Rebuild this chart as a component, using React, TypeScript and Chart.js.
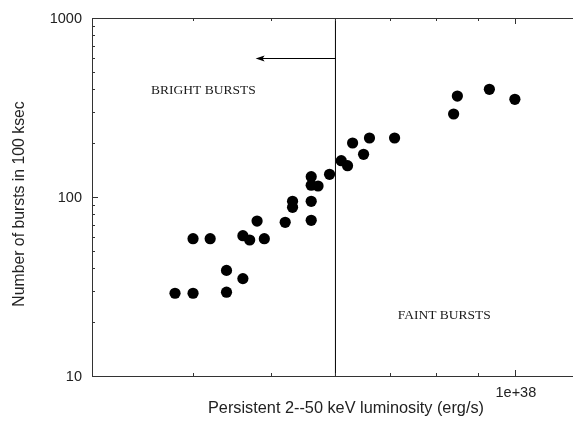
import React, { useEffect, useRef } from "react";
import { Chart, registerables } from "chart.js";

Chart.register(...registerables);

// Persistent 2--50 keV luminosity, in units of 1e37 erg/s
const luminosity = [
  3.8, 4.0, 4.4, 4.4, 4.61, 4.0, 4.2, 4.61, 4.7, 4.9, 4.8, 5.2, 5.31, 5.31,
  5.6, 5.6, 5.6, 5.6, 5.71, 5.9, 6.1, 6.21, 6.3, 6.61, 6.5, 7.1, 8.4, 8.49,
  9.3, 10.0,
];
// Number of bursts in 100 ksec
const bursts = [
  29, 29, 29.4, 38.9, 35, 58.5, 58.5, 60.8, 57.5, 58.5, 73.4, 72.2, 94.6, 87.6,
  94.6, 74.1, 129.8, 116.3, 115.2, 133.9, 159.5, 149.6, 200.3, 213.6, 173.2,
  213.6, 290.9, 366.5, 399.6, 351.4,
];

const UNIT = 1e37;
const xRange = [3.0, 11.8]; // units of 1e37
const yRange = [10, 1000];
const yTickLabels = ["10", "100", "1000"];
const yTickValues = [10, 100, 1000];
const xTickLabels = ["1e+38"];
const xTickValues = [10];
const xMinorTicks = [3, 4, 5, 6, 7, 8, 9, 10]; // units of 1e37

const boundaryLum = 6.0;
const arrowLevel = 600;
const arrowEnd = 4.78;
const brightLabel = { text: "BRIGHT BURSTS", x: 4.12, y: 396 };
const faintLabel = { text: "FAINT BURSTS", x: 8.18, y: 21.9 };

const xTitle = "Persistent 2--50 keV luminosity (erg/s)";
const yTitle = "Number of bursts in 100 ksec";

const framePlugin = {
  id: "framePlugin",
  afterDatasetsDraw(chart: any) {
    const { ctx, chartArea, scales } = chart;
    const xs = scales.x;
    const ys = scales.y;
    const { left, right, top, bottom } = chartArea;
    ctx.save();

    // frame
    ctx.strokeStyle = "#333";
    ctx.lineWidth = 1;
    ctx.beginPath();
    ctx.moveTo(left + 0.5, top + 0.5);
    ctx.lineTo(left + 0.5, bottom + 0.5);
    ctx.moveTo(left, top + 0.5);
    ctx.lineTo(right, top + 0.5);
    ctx.moveTo(left, bottom + 0.5);
    ctx.lineTo(right, bottom + 0.5);
    ctx.stroke();

    // y ticks (inward)
    ctx.beginPath();
    for (let k = 1; k <= 2; k++) {
      for (let m = 1; m <= 10; m++) {
        const v = m * Math.pow(10, k);
        if (v < yRange[0] || v > yRange[1]) continue;
        const py = Math.round(ys.getPixelForValue(v)) + 0.5;
        const len = m === 1 || m === 10 ? 6 : 3;
        ctx.moveTo(left, py);
        ctx.lineTo(left + len, py);
      }
    }
    // x ticks (inward, top and bottom)
    for (const m of xMinorTicks) {
      const px = Math.round(xs.getPixelForValue(m * UNIT)) + 0.5;
      const len = m === 10 ? 6 : 3;
      ctx.moveTo(px, bottom);
      ctx.lineTo(px, bottom - len);
      ctx.moveTo(px, top);
      ctx.lineTo(px, top + len);
    }
    ctx.stroke();

    // arrow
    const ay = Math.round(ys.getPixelForValue(arrowLevel)) + 0.5;
    const ax0 = xs.getPixelForValue(boundaryLum * UNIT);
    const ax1 = xs.getPixelForValue(arrowEnd * UNIT);
    ctx.strokeStyle = "#000";
    ctx.fillStyle = "#000";
    ctx.beginPath();
    ctx.moveTo(ax0, ay);
    ctx.lineTo(ax1 + 6, ay);
    ctx.stroke();
    ctx.beginPath();
    ctx.moveTo(ax1, ay);
    ctx.lineTo(ax1 + 9, ay - 3);
    ctx.lineTo(ax1 + 7, ay);
    ctx.lineTo(ax1 + 9, ay + 3);
    ctx.closePath();
    ctx.fill();

    // annotations
    ctx.fillStyle = "#1a1a1a";
    ctx.font = '13.5px "Liberation Serif", "Times New Roman", serif';
    ctx.textAlign = "center";
    ctx.textBaseline = "middle";
    for (const a of [brightLabel, faintLabel]) {
      ctx.fillText(a.text, xs.getPixelForValue(a.x * UNIT), ys.getPixelForValue(a.y));
    }

    // tick labels
    ctx.fillStyle = "#222";
    ctx.font = '14.5px "Liberation Sans", Arial, sans-serif';
    ctx.textAlign = "right";
    yTickValues.forEach((v, i) => {
      ctx.fillText(yTickLabels[i], left - 10, ys.getPixelForValue(v) + 0.5);
    });
    ctx.textAlign = "center";
    xTickValues.forEach((v, i) => {
      ctx.fillText(xTickLabels[i], xs.getPixelForValue(v * UNIT) + 1, bottom + 17);
    });

    // axis titles
    ctx.font = '16.3px "Liberation Sans", Arial, sans-serif';
    ctx.fillText(xTitle, 346, 409);
    ctx.save();
    ctx.translate(20, 204);
    ctx.rotate(-Math.PI / 2);
    ctx.font = '15.8px "Liberation Sans", Arial, sans-serif';
    ctx.fillText(yTitle, 0, 0);
    ctx.restore();

    ctx.restore();
  },
};

export default function App() {
  const ref = useRef<HTMLCanvasElement | null>(null);
  useEffect(() => {
    if (!ref.current) return;
    const points = luminosity.map((l, i) => ({ x: l * UNIT, y: bursts[i] }));
    const chart = new Chart(ref.current, {
      type: "scatter",
      data: {
        datasets: [
          {
            label: "bursts",
            data: points,
            backgroundColor: "#000",
            borderWidth: 0,
            pointRadius: 5.6,
            pointHoverRadius: 5.6,
          },
          {
            label: "boundary",
            type: "line",
            data: [
              { x: boundaryLum * UNIT, y: yRange[0] },
              { x: boundaryLum * UNIT, y: yRange[1] },
            ],
            borderColor: "#000",
            borderWidth: 1,
            pointRadius: 0,
            showLine: true,
            fill: false,
          } as any,
        ],
      },
      options: {
        animation: false,
        responsive: false,
        maintainAspectRatio: false,
        events: [],
        layout: {
          autoPadding: false,
          padding: { left: 92, top: 18, right: 0, bottom: 47 },
        },
        plugins: { legend: { display: false }, tooltip: { enabled: false } },
        scales: {
          x: {
            type: "logarithmic",
            display: false,
            min: xRange[0] * UNIT,
            max: xRange[1] * UNIT,
          },
          y: {
            type: "logarithmic",
            display: false,
            min: yRange[0],
            max: yRange[1],
          },
        },
      },
      plugins: [framePlugin],
    });
    return () => chart.destroy();
  }, []);
  return (
    <div
      style={{
        position: "fixed",
        left: 0,
        top: 0,
        width: 573,
        height: 423,
        background: "#fff",
      }}
    >
      <canvas ref={ref} width={573} height={423} style={{ display: "block" }} />
    </div>
  );
}
